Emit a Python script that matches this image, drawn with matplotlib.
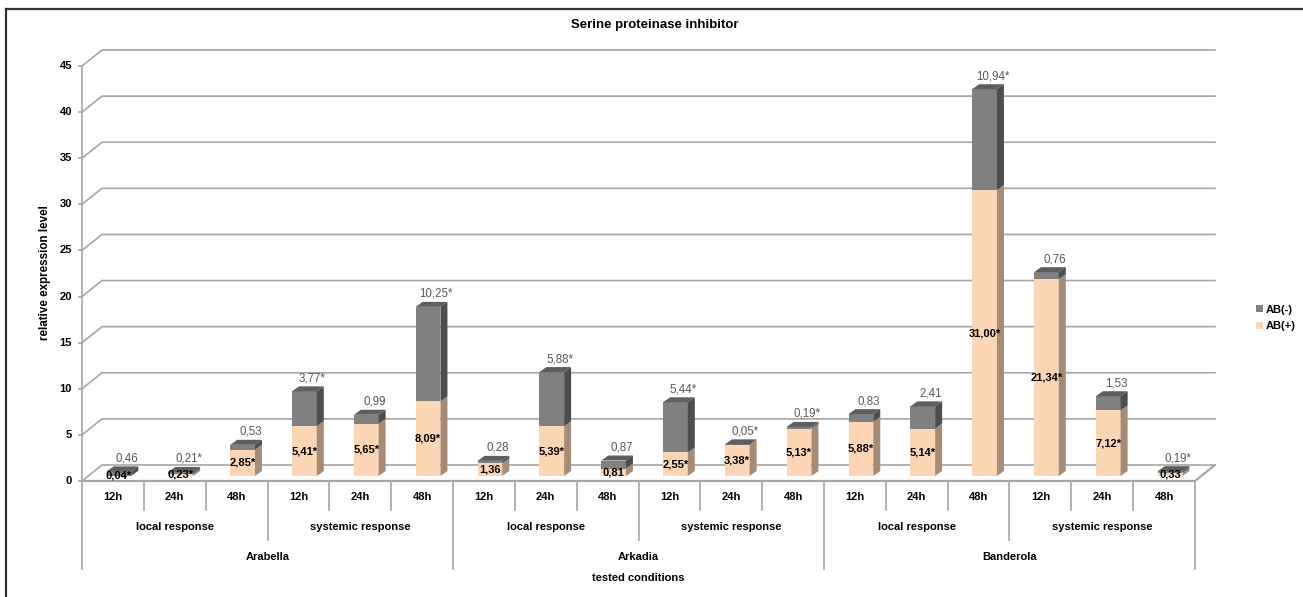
import numpy as np
import matplotlib.pyplot as plt
import matplotlib.transforms as mtransforms
from matplotlib.patches import Polygon, Patch
from matplotlib.lines import Line2D

plt.rcParams['font.family'] = ['Liberation Sans', 'DejaVu Sans']
plt.rcParams['font.size'] = 8

# data
cultivars = ['Arabella', 'Arkadia', 'Banderola']
responses = ['local response', 'systemic response']
hours = ['12h', '24h', '48h']

ab_plus = [0.04, 0.23, 2.85, 5.41, 5.65, 8.09,
           1.36, 5.39, 0.81, 2.55, 3.38, 5.13,
           5.88, 5.14, 31.00, 21.34, 7.12, 0.33]
ab_plus_sig = [1, 1, 1, 1, 1, 1, 0, 1, 0, 1, 1, 1, 1, 1, 1, 1, 1, 0]
ab_minus = [0.46, 0.21, 0.53, 3.77, 0.99, 10.25,
            0.28, 5.88, 0.87, 5.44, 0.05, 0.19,
            0.83, 2.41, 10.94, 0.76, 1.53, 0.19]
ab_minus_sig = [0, 1, 0, 1, 0, 1, 0, 1, 0, 1, 1, 1, 0, 0, 1, 0, 0, 1]
yticks = np.arange(0, 46, 5)


def fmt(v, sig):
    return f"{v:.2f}".replace('.', ',') + ('*' if sig else '')


W, H = 1303, 597
fig = plt.figure(figsize=(W / 100, H / 100), dpi=100)
ax_w, ax_h = 1113, 415
ax = fig.add_axes([82 / W, 1 - 481 / H, ax_w / W, ax_h / H])
n = len(ab_plus)
ax.set_xlim(0, n)
ax.set_ylim(0, 45)
ax.axis('off')

sx = ax_w / n      # pixels per category
sy = ax_h / 45     # pixels per unit
DX, DY = 20 / sx, 16 / sy      # wall depth
bx0, by0 = 6 / sx, 5 / sy      # bar front plane
bdx, bdy = 7 / sx, 5 / sy      # bar depth
bw = 0.40

grid_c = '#A6A6A6'
peach, peach_side = '#FCD5B5', '#A68B76'
gray, gray_side, gray_top = '#808080', '#4D4D4D', '#5E5E5E'

# walls / grid
for v in yticks:
    ax.plot([0, DX, n + DX], [v, v + DY, v + DY], color=grid_c, lw=1.2,
            clip_on=False, zorder=1)
    ax.plot([-3 / sx, 0], [v, v], color=grid_c, lw=1.2, clip_on=False, zorder=1)
    ax.text(-10 / sx, v, str(v), ha='right', va='center', fontweight='bold')
ax.plot([0, 0], [0, 45], color=grid_c, lw=1.2, clip_on=False, zorder=1)
ax.plot([0, n, n + DX], [0, 0, DY], color=grid_c, lw=1.6, clip_on=False, zorder=1)

# bars
x = np.arange(n) + 0.5 + bx0
plus = np.array(ab_plus)
minus = np.array(ab_minus)
ax.bar(x, plus, bw, bottom=by0, color=peach, zorder=3)
ax.bar(x, minus, bw, bottom=by0 + plus, color=gray, zorder=3)
for i in range(n):
    xl, xr = x[i] - bw / 2, x[i] + bw / 2
    b0, t0 = by0, by0 + plus[i]
    t1 = t0 + minus[i]
    for b, t, c in [(b0, t0, peach_side), (t0, t1, gray_side)]:
        ax.add_patch(Polygon([(xr, b), (xr + bdx, b + bdy), (xr + bdx, t + bdy), (xr, t)],
                             closed=True, facecolor=c, edgecolor='none', zorder=3))
    ax.add_patch(Polygon([(xl, t1), (xl + bdx, t1 + bdy), (xr + bdx, t1 + bdy), (xr, t1)],
                         closed=True, facecolor=gray_top, edgecolor='none', zorder=3))
    ax.text(x[i], b0 + plus[i] / 2, fmt(ab_plus[i], ab_plus_sig[i]),
            ha='center', va='center', fontweight='bold', color='black', zorder=5)
    ax.text(x[i] + 8 / sx, t1 + 13 / sy, fmt(ab_minus[i], ab_minus_sig[i]),
            ha='center', va='center', color='#595959', fontsize=8.3, zorder=5)

# category table below axis
trans = mtransforms.blended_transform_factory(ax.transData, ax.transAxes)


def yb(px):
    return -px / ax_h


for i in range(n + 1):
    if i % 6 == 0:
        depth = 88
    elif i % 3 == 0:
        depth = 59
    else:
        depth = 29
    ax.plot([i, i], [0, yb(depth)], color=grid_c, lw=1.2, transform=trans,
            clip_on=False)
for i in range(n):
    ax.text(i + 0.5, yb(16), hours[i % 3], transform=trans, ha='center',
            va='center', fontweight='bold')
for k in range(n // 3):
    ax.text(3 * k + 1.5, yb(46), responses[k % 2], transform=trans, ha='center',
            va='center', fontweight='bold')
for k, c in enumerate(cultivars):
    ax.text(6 * k + 3, yb(76), c, transform=trans, ha='center', va='center',
            fontweight='bold')
ax.text(n / 2, yb(97), 'tested conditions', transform=trans, ha='center',
        va='center', fontweight='bold')

fig.text(45 / W, 1 - 273 / H, 'relative expression level', rotation=90,
         ha='center', va='center', fontweight='bold', fontsize=8.4)
fig.text(655 / W, 1 - 25 / H, 'Serine proteinase inhibitor', ha='center',
         va='center', fontweight='bold', fontsize=9.5)

fig.legend(handles=[Patch(facecolor=gray), Patch(facecolor=peach)],
           labels=['AB(-)', 'AB(+)'], loc='center left',
           bbox_to_anchor=(1246 / W, 1 - 318 / H), frameon=False,
           handlelength=0.6, handleheight=0.6, handletextpad=0.3,
           labelspacing=0.6, prop={'weight': 'bold', 'size': 8})

# outer frame (left and top)
fig.add_artist(Line2D([6 / W, 6 / W], [0, 1 - 9 / H], color='#333333', lw=1.6,
                      transform=fig.transFigure))
fig.add_artist(Line2D([6 / W, 1], [1 - 9 / H, 1 - 9 / H], color='#333333', lw=1.6,
                      transform=fig.transFigure))

fig.savefig('out.png', dpi=100)
